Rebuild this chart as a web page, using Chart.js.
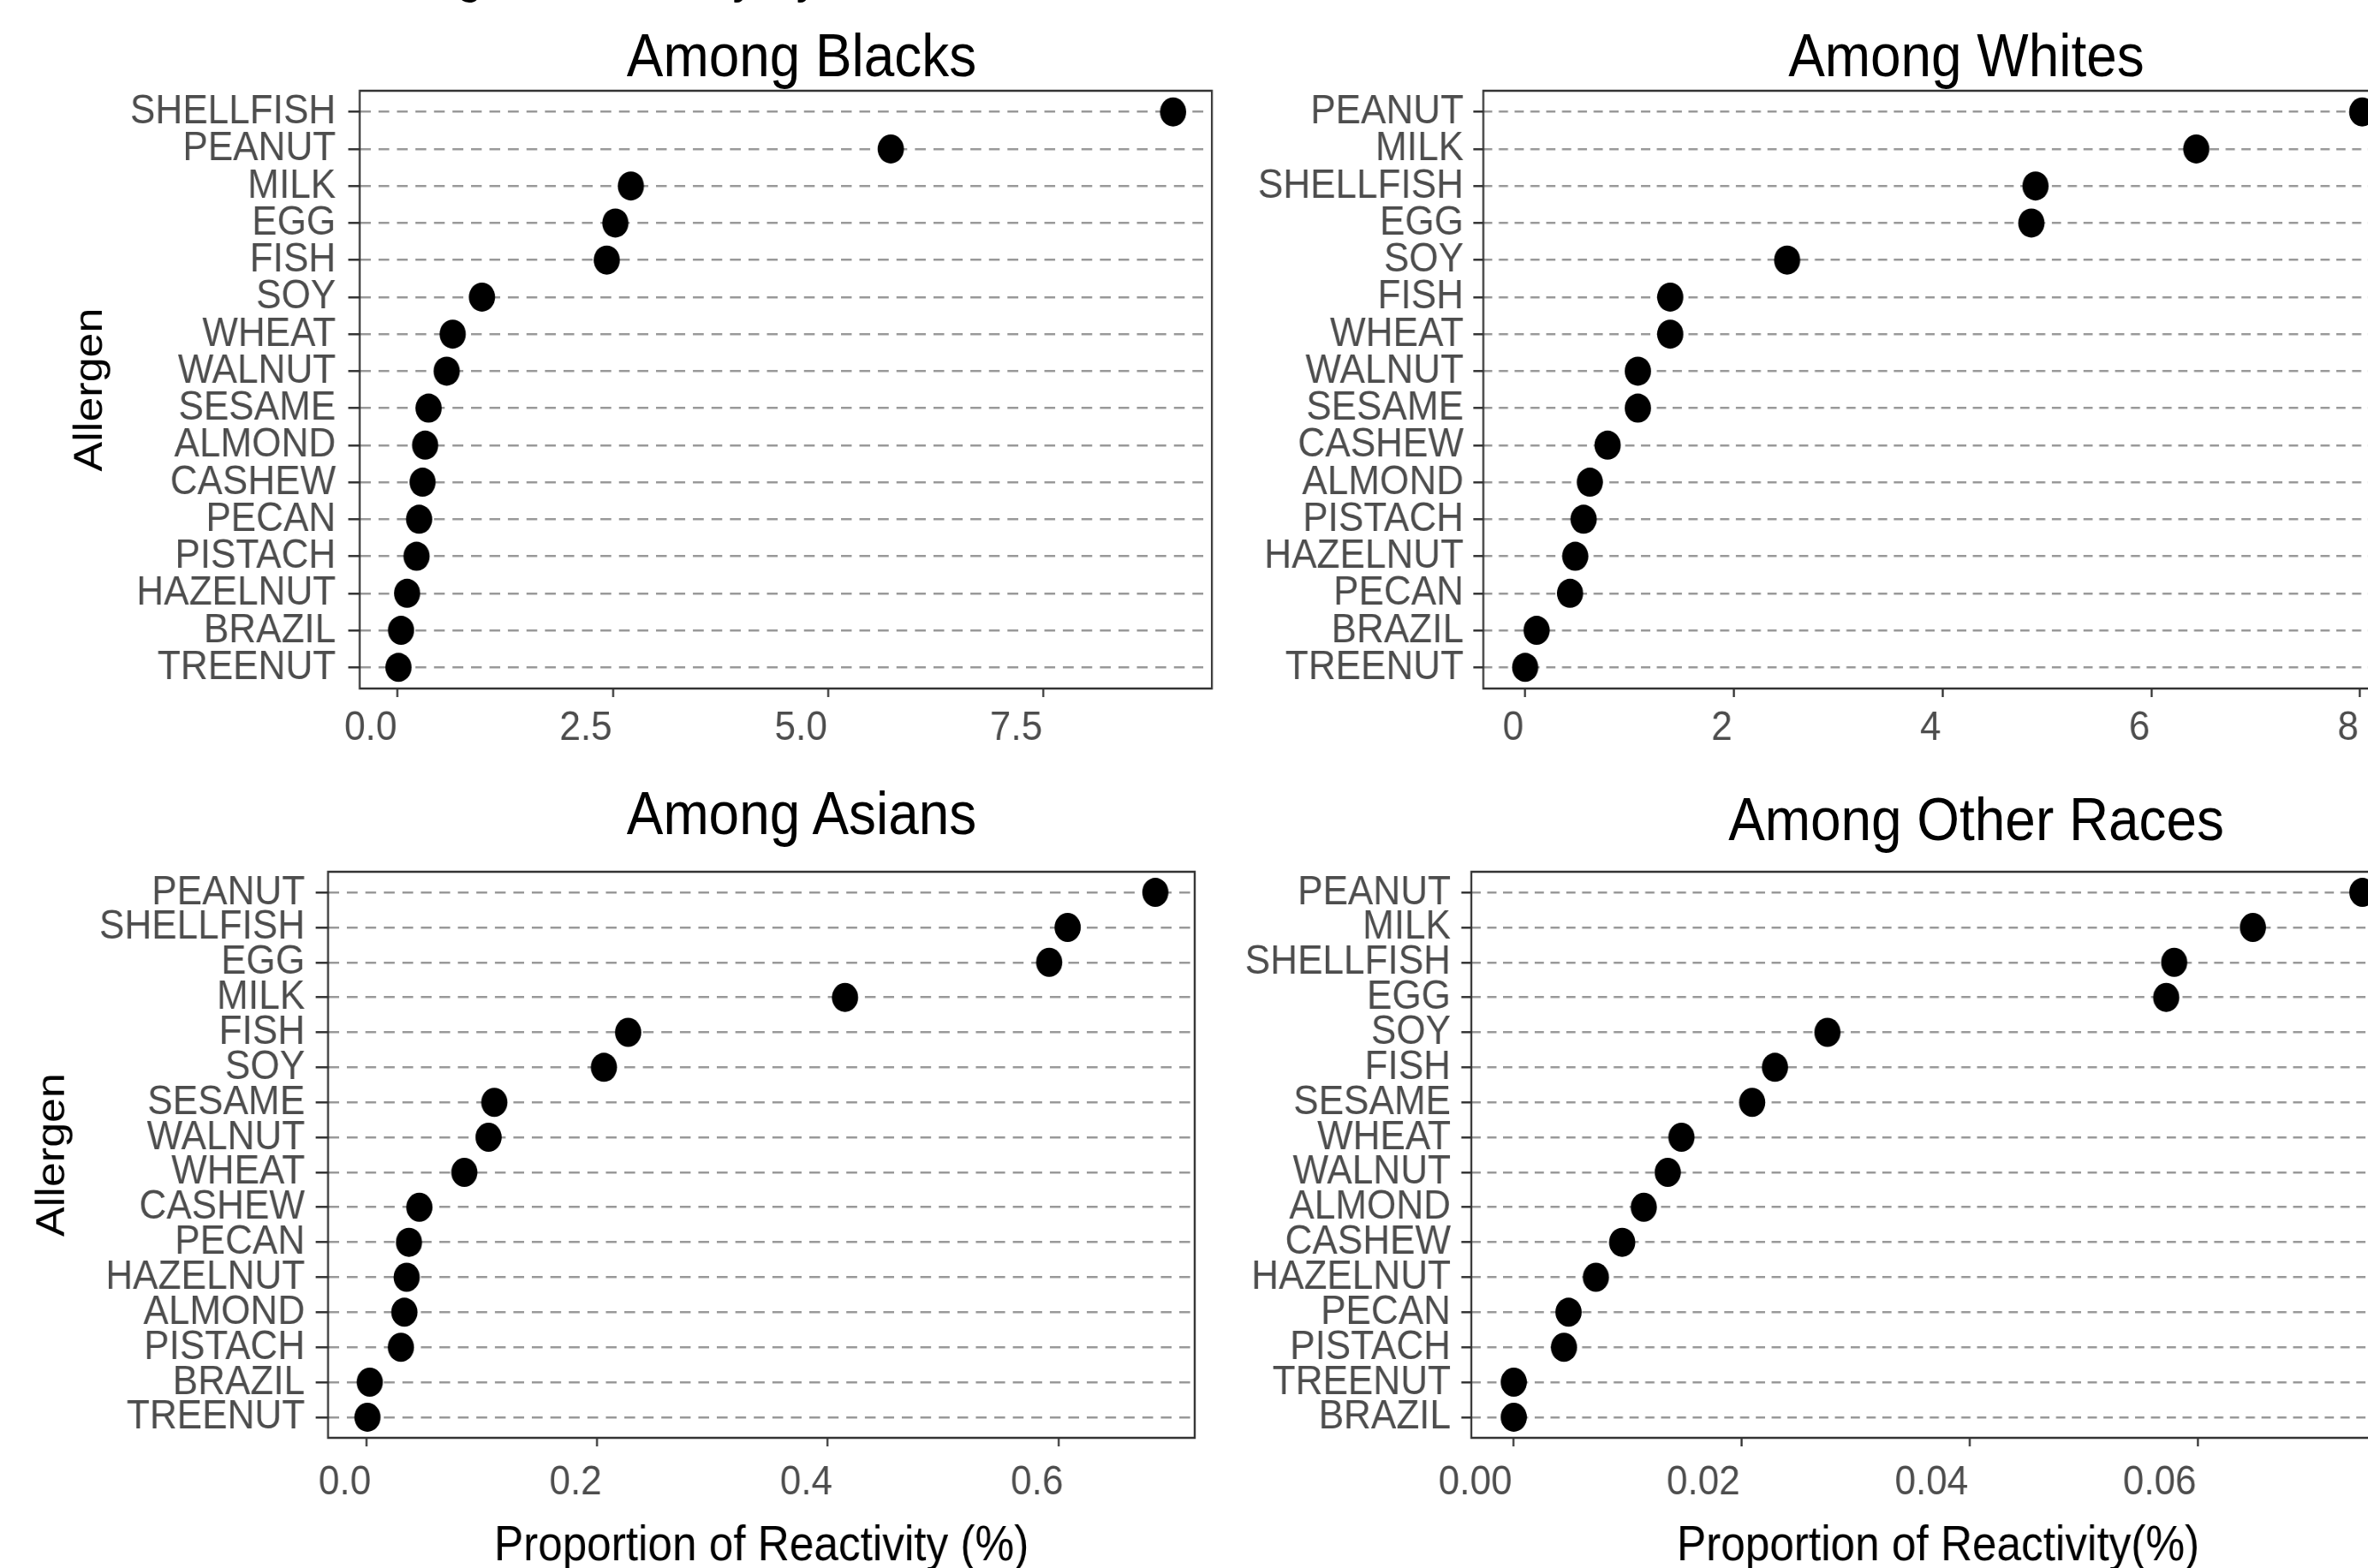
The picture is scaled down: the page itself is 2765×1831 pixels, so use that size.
<!DOCTYPE html>
<html>
<head>
<meta charset="utf-8">
<title>Allergen Reactivity by Race</title>
<script src="https://cdn.jsdelivr.net/npm/chart.js@4.4.1/dist/chart.umd.min.js"></script>
<style>
  html, body { margin: 0; padding: 0; background: #fff; width: 2765px; height: 1831px; overflow: hidden; }
  /* the whole figure is slightly condensed horizontally, like the source image */
  #stage { position: absolute; left: 0; top: 0; width: 3140px; height: 1850px; transform: scaleX(0.9); transform-origin: 0 0; }
  .panel { position: absolute; }
  .title { position: absolute; font-family: 'Liberation Sans', Arial, sans-serif; font-size: 71px; line-height: 71px; color: #000; white-space: nowrap; transform: translate(-50%, -50%); }
  #caption { position: absolute; left: 468px; top: -62px; font-family: 'Liberation Sans', Arial, sans-serif; font-size: 62px; line-height: 62px; color: #000; white-space: nowrap; }
</style>
</head>
<body>
<div id="stage">
  <div id="caption">Allergen Reactivity by Race</div>
</div>

<script>
// Data (top row first in every panel)
const blackAllergens = ['SHELLFISH', 'PEANUT', 'MILK', 'EGG', 'FISH', 'SOY', 'WHEAT', 'WALNUT', 'SESAME', 'ALMOND', 'CASHEW', 'PECAN', 'PISTACH', 'HAZELNUT', 'BRAZIL', 'TREENUT'];
const blackValues = [9.01, 5.73, 2.71, 2.53, 2.43, 0.98, 0.64, 0.57, 0.36, 0.32, 0.29, 0.25, 0.22, 0.11, 0.04, 0.01];
const blackTicks = [0, 2.5, 5, 7.5];
const blackTickLabels = ['0.0', '2.5', '5.0', '7.5'];

const whiteAllergens = ['PEANUT', 'MILK', 'SHELLFISH', 'EGG', 'SOY', 'FISH', 'WHEAT', 'WALNUT', 'SESAME', 'CASHEW', 'ALMOND', 'PISTACH', 'HAZELNUT', 'PECAN', 'BRAZIL', 'TREENUT'];
const whiteValues = [8.02, 6.43, 4.89, 4.85, 2.51, 1.39, 1.39, 1.08, 1.08, 0.79, 0.62, 0.56, 0.48, 0.43, 0.11, 0.0];
const whiteTicks = [0, 2, 4, 6, 8];
const whiteTickLabels = ['0', '2', '4', '6', '8'];

const asianAllergens = ['PEANUT', 'SHELLFISH', 'EGG', 'MILK', 'FISH', 'SOY', 'SESAME', 'WALNUT', 'WHEAT', 'CASHEW', 'PECAN', 'HAZELNUT', 'ALMOND', 'PISTACH', 'BRAZIL', 'TREENUT'];
const asianValues = [0.684, 0.608, 0.592, 0.415, 0.227, 0.206, 0.111, 0.106, 0.085, 0.046, 0.037, 0.035, 0.033, 0.030, 0.003, 0.001];
const asianTicks = [0, 0.2, 0.4, 0.6];
const asianTickLabels = ['0.0', '0.2', '0.4', '0.6'];

const otherAllergens = ['PEANUT', 'MILK', 'SHELLFISH', 'EGG', 'SOY', 'FISH', 'SESAME', 'WHEAT', 'WALNUT', 'ALMOND', 'CASHEW', 'HAZELNUT', 'PECAN', 'PISTACH', 'TREENUT', 'BRAZIL'];
const otherValues = [0.0744, 0.0648, 0.0579, 0.0572, 0.0275, 0.0229, 0.0209, 0.0147, 0.0135, 0.0114, 0.0095, 0.0072, 0.0048, 0.0044, 0.0, 0.0];
const otherTicks = [0, 0.02, 0.04, 0.06];
const otherTickLabels = ['0.00', '0.02', '0.04', '0.06'];

const FONT = "'Liberation Sans', Arial, sans-serif";
const stage = document.getElementById('stage');

// ggplot style 5% expansion of the data range
function xLimits(values) {
    const lo = Math.min(...values);
    const hi = Math.max(...values);
    const pad = (hi - lo) * 0.05;
    return [lo - pad, hi + pad];
}

// full box around the plotting area
const panelBorder = {
    id: 'panelBorder',
    afterDraw(chart) {
        const a = chart.chartArea;
        const ctx = chart.ctx;
        ctx.save();
        ctx.strokeStyle = '#333333';
        ctx.lineWidth = 2.5;
        ctx.strokeRect(a.left, a.top, a.right - a.left, a.bottom - a.top);
        ctx.restore();
    }
};

function addTitle(text, x, y) {
    const div = document.createElement('div');
    div.className = 'title';
    div.textContent = text;
    div.style.left = x + 'px';
    div.style.top = y + 'px';
    stage.appendChild(div);
}

function makePanel(p) {
    const holder = document.createElement('div');
    holder.className = 'panel';
    holder.style.left = p.left + 'px';
    holder.style.top = p.top + 'px';
    const canvas = document.createElement('canvas');
    canvas.width = p.width;
    canvas.height = p.height;
    holder.appendChild(canvas);
    stage.appendChild(holder);

    const [xmin, xmax] = xLimits(p.values);

    new Chart(canvas, {
        type: 'scatter',
        data: {
            datasets: [{
                data: p.values.map((v, i) => ({ x: v, y: i })),
                pointRadius: 17,
                pointHoverRadius: 17,
                pointBorderWidth: 0,
                backgroundColor: '#000000',
                borderColor: '#000000'
            }]
        },
        options: {
            responsive: false,
            animation: false,
            events: [],
            layout: {
                padding: { top: p.boxTop - p.top, right: p.left + p.width - p.boxRight, left: 0, bottom: 0 }
            },
            plugins: {
                legend: { display: false },
                tooltip: { enabled: false }
            },
            scales: {
                x: {
                    type: 'linear',
                    position: 'bottom',
                    min: xmin,
                    max: xmax,
                    afterFit: s => { s.height = p.top + p.height - p.boxBottom; },
                    afterBuildTicks: s => { s.ticks = p.ticks.map(v => ({ value: v })); },
                    grid: { drawOnChartArea: false, drawTicks: true, tickLength: 10, tickColor: '#333333', tickWidth: 2.5 },
                    border: { display: false },
                    ticks: {
                        autoSkip: false,
                        maxRotation: 0,
                        padding: p.xPad,
                        labelOffset: p.labelOffset,
                        color: '#4d4d4d',
                        font: { family: FONT, size: 49 },
                        callback: (v, i) => p.tickLabels[i]
                    },
                    title: {
                        display: !!p.xTitle,
                        text: p.xTitle || '',
                        color: '#000000',
                        font: { family: FONT, size: 57 },
                        padding: { top: 0, bottom: 9.8 }
                    }
                },
                y: {
                    type: 'linear',
                    reverse: true,
                    min: -p.yExp,
                    max: p.cats.length - 1 + p.yExp,
                    afterFit: s => { s.width = p.boxLeft - p.left; },
                    afterBuildTicks: s => { s.ticks = p.cats.map((c, i) => ({ value: i })); },
                    grid: { color: '#999999', lineWidth: 2.6, drawTicks: true, tickLength: p.yTick, tickColor: '#333333', tickWidth: 2.5 },
                    border: { display: false, dash: p.dash },
                    ticks: {
                        autoSkip: false,
                        padding: p.yPad,
                        color: '#4d4d4d',
                        font: { family: FONT, size: 49 },
                        callback: (v, i) => p.cats[i]
                    },
                    title: {
                        display: !!p.yTitle,
                        text: p.yTitle || '',
                        color: '#000000',
                        font: { family: FONT, size: 52 },
                        padding: { top: p.yTitlePad || 0, bottom: 0 }
                    }
                }
            }
        },
        plugins: [panelBorder]
    });

    addTitle(p.title, p.titleX, p.titleY);
}

// Among Blacks
makePanel({
    title: 'Among Blacks', titleX: 1040, titleY: 64,
    cats: blackAllergens, values: blackValues, ticks: blackTicks, tickLabels: blackTickLabels,
    left: 0, top: 0, width: 1600, height: 900,
    boxLeft: 466.7, boxRight: 1572.2, boxTop: 106, boxBottom: 804,
    yExp: 0.57, yTick: 15, yPad: 16, xPad: 7.4, labelOffset: -35,
    dash: [14, 10], yTitle: 'Allergen', yTitlePad: 86.6
});

// Among Whites
makePanel({
    title: 'Among Whites', titleX: 2551, titleY: 64,
    cats: whiteAllergens, values: whiteValues, ticks: whiteTicks, tickLabels: whiteTickLabels,
    left: 1600, top: 0, width: 1540, height: 900,
    boxLeft: 1924.4, boxRight: 3119, boxTop: 106, boxBottom: 804,
    yExp: 0.57, yTick: 13, yPad: 12.5, xPad: 7.4, labelOffset: -15.6,
    dash: [12, 8.5]
});

// Among Asians
makePanel({
    title: 'Among Asians', titleX: 1040, titleY: 949,
    cats: asianAllergens, values: asianValues, ticks: asianTicks, tickLabels: asianTickLabels,
    left: 0, top: 900, width: 1580, height: 950,
    boxLeft: 425.6, boxRight: 1550, boxTop: 1018, boxBottom: 1679,
    yExp: 0.59, yTick: 16, yPad: 14, xPad: 13.3, labelOffset: -27.8,
    dash: [14, 10], yTitle: 'Allergen', yTitlePad: 37.7,
    xTitle: 'Proportion of Reactivity (%)'
});

// Among Other Races
makePanel({
    title: 'Among Other Races', titleX: 2564, titleY: 956,
    cats: otherAllergens, values: otherValues, ticks: otherTicks, tickLabels: otherTickLabels,
    left: 1580, top: 900, width: 1560, height: 950,
    boxLeft: 1908.9, boxRight: 3120, boxTop: 1018, boxBottom: 1679,
    yExp: 0.59, yTick: 13, yPad: 13.7, xPad: 13.3, labelOffset: -50,
    dash: [12, 8.5],
    xTitle: 'Proportion of Reactivity(%)'
});
</script>
</body>
</html>
